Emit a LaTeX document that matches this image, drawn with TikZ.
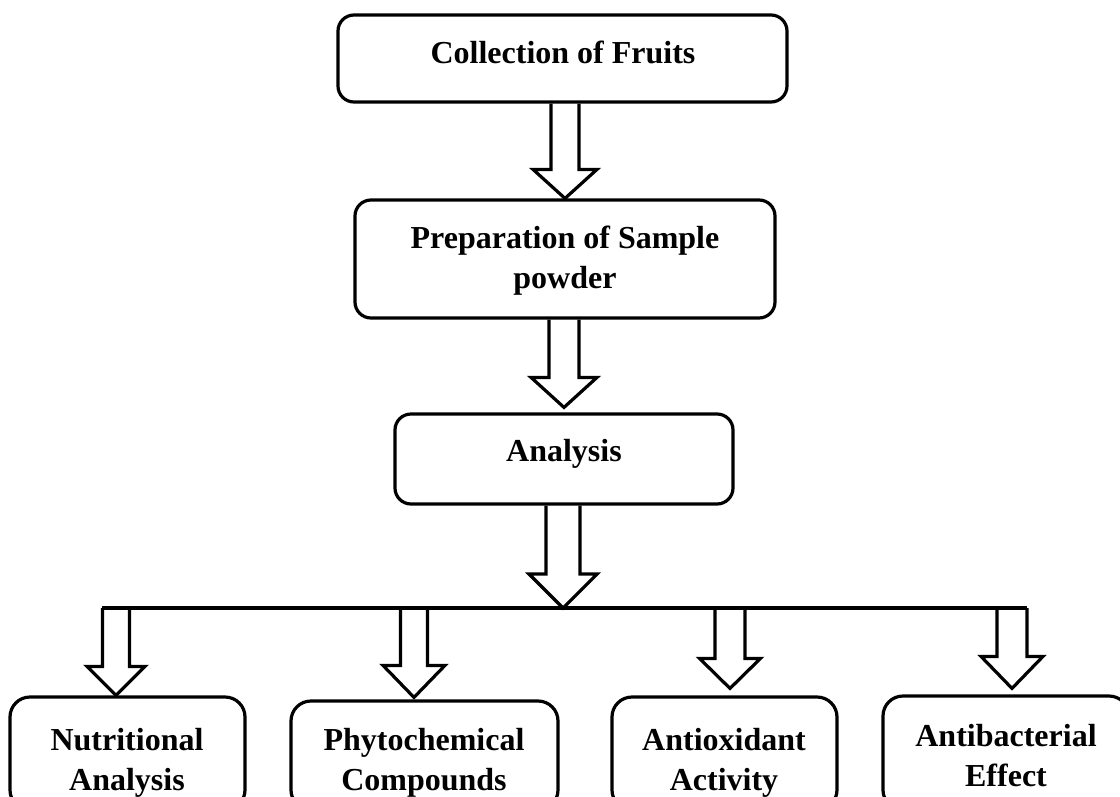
\documentclass[tikz,border=0pt]{standalone}
\usepackage{fontspec}
\setmainfont{Liberation Serif}
\usetikzlibrary{calc}
\tikzset{
  box/.style={draw=black, line width=3.2pt, rounded corners=16pt, inner sep=0pt},
  lowbox/.style={box, rounded corners=20pt},
  lbl/.style={font=\fontsize{32}{40}\selectfont\bfseries, align=center, inner sep=0pt},
  barrow/.style={draw=black, line width=3.2pt, line join=miter, miter limit=10},
  barline/.style={draw=black, line width=3.2pt},
}
% #1 start point (its y = top of shaft), #2 tip point, #3 half shaft width, #4 half head width, #5 head length
\newcommand\blockarr[5]{%
  \draw[barrow] let \p1=(#1), \p2=(#2) in
    (\x2-#3pt,\y1) -- (\x2-#3pt,\y2+#5pt) -- (\x2-#4pt,\y2+#5pt) -- (\x2,\y2)
    -- (\x2+#4pt,\y2+#5pt) -- (\x2+#3pt,\y2+#5pt) -- (\x2+#3pt,\y1);}
\begin{document}
\begin{tikzpicture}[x=1pt,y=-1pt]
\useasboundingbox (0,0) rectangle (1120,796);
\clip (0,0) rectangle (1120,796);
\fill[white] (0,0) rectangle (1120,796);

% main chain
\node[box, minimum width=449pt, minimum height=87pt] (b1) at (562.5,58.5) {};
\node[lbl] (t1) at (563,52) {Collection of Fruits};

\node[box, minimum width=420pt, minimum height=118pt] (b2) at (565,259) {};
\node[lbl] (t2) at (565,261) {Preparation of Sample\\powder};

\node[box, minimum width=338pt, minimum height=90pt] (b3) at (564,459) {};
\node[lbl] (t3) at (564,453.5) {Analysis};

\blockarr{b1.south}{b2.north}{14}{32}{29}
\blockarr{b2.south}{$(b3.north)+(0,-5)$}{15}{33}{30}

% bar
\coordinate (barL) at (102,608);
\coordinate (barR) at (1027,608);
\coordinate (hub) at (563,608);
\draw[barline] (barL) -- (barR);
\blockarr{b3.south}{hub}{17}{34}{34}

% bottom boxes
\node[lowbox, minimum width=235pt, minimum height=113pt] (n1) at (127.5,753.5) {};
\node[lbl] (t4) at (127,763) {Nutritional\\Analysis};

\node[lowbox, minimum width=267pt, minimum height=109pt] (n2) at (424.5,755.5) {};
\node[lbl] (t5) at (424,762.5) {Phytochemical\\Compounds};

\node[lowbox, minimum width=225pt, minimum height=113pt] (n3) at (724.5,753.5) {};
\node[lbl] (t6) at (724,763) {Antioxidant\\Activity};

\node[lowbox, minimum width=246pt, minimum height=114pt] (n4) at (1006,753) {};
\node[lbl] (t7) at (1006,756) {Antibacterial\\Effect};

% branch arrows
\blockarr{barL}{$(n1.north)+(-11.5,0)$}{13.5}{29}{29}
\blockarr{barL}{$(n2.north)+(-10.5,-2)$}{13.5}{31}{32}
\blockarr{barL}{$(n3.north)+(5.5,-7)$}{15}{30.5}{30}
\blockarr{barL}{$(n4.north)+(6,-6)$}{15}{31}{32}
\end{tikzpicture}
\end{document}
